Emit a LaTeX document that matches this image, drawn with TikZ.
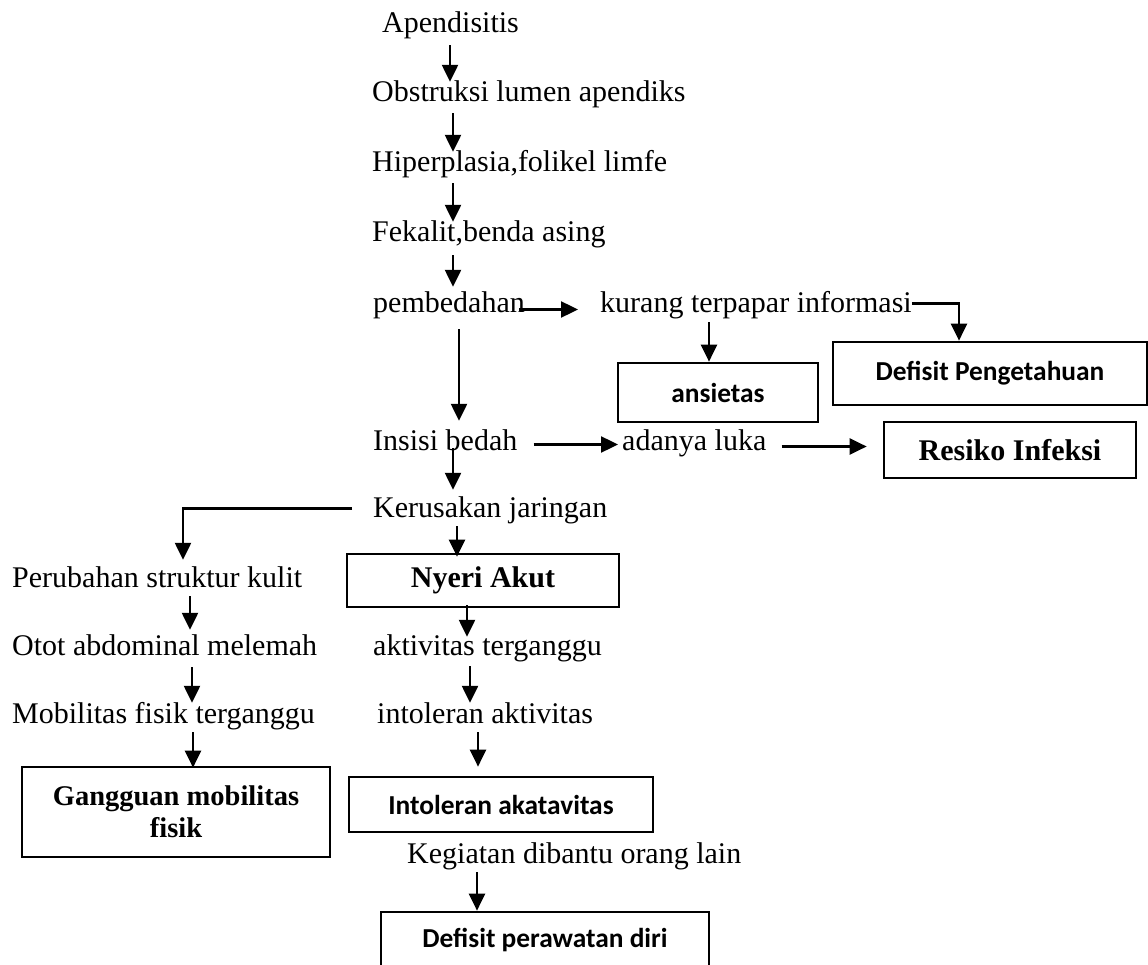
\documentclass[tikz,border=0pt]{standalone}
\usepackage{fontspec}
\setmainfont{Liberation Serif}
\newfontfamily\carlito{Carlito}
\usetikzlibrary{arrows.meta}
\tikzset{
  txt/.style={anchor=base west, inner sep=0pt, text height=20pt, text depth=9pt,
    font=\fontsize{30}{34}\selectfont},
  box/.style={draw, line width=2.7pt, inner sep=0pt, align=center},
  calbox/.style={box, font=\carlito\bfseries\fontsize{27.4}{30}\selectfont},
  timbox/.style={box, font=\bfseries\fontsize{30}{32}\selectfont},
  arr/.style={-{Triangle[width=16pt,length=17pt]}, line width=2.4pt}
}

\begin{document}
\begin{tikzpicture}[x=1pt,y=-1pt]
  \useasboundingbox (0,0) rectangle (1148,965);
  % main line
  \node[txt] (apend) at (382,33) {Apendisitis};
  \node[txt] (obst)  at (372,102) {Obstruksi lumen apendiks};
  \node[txt] (hiper) at (372,172) {Hiperplasia,folikel limfe};
  \node[txt] (fekal) at (372,242) {Fekalit,benda asing};
  \node[txt] (bedah) at (373,313) {pembedahan};
  \node[txt] (kurang) at (600,313) {kurang terpapar informasi};
  \node[txt] (insisi) at (373,450) {Insisi bedah};
  \node[txt] (luka)  at (622,450) {adanya luka};
  \node[txt] (rusak) at (373,517) {Kerusakan jaringan};
  \node[txt] (kulit) at (12,587) {Perubahan struktur kulit};
  \node[txt] (otot)  at (12,655) {Otot abdominal melemah};
  \node[txt] (mobil) at (12,723) {Mobilitas fisik terganggu};
  \node[txt] (aktiv) at (373,655) {aktivitas terganggu};
  \node[txt] (intol) at (377,723) {intoleran aktivitas};
  \node[txt] (bantu) at (407,863) {Kegiatan dibantu orang lain};
  % diagnoses
  \node[calbox, minimum width=200pt, minimum height=59pt] (ansietas) at (718,392.5) {ansietas};
  \node[calbox, minimum width=314pt, minimum height=63pt] (tahu) at (990,373.5) {Defisit Pengetahuan};
  \node[timbox, minimum width=252pt, minimum height=56pt] (infeksi) at (1010,450) {Resiko Infeksi};
  \node[timbox, minimum width=272pt, minimum height=53pt] (nyeri) at (483,580.5) {Nyeri Akut};
  \node[timbox, minimum width=308pt, minimum height=90pt,
    font=\bfseries\fontsize{28.5}{32}\selectfont] (gerak) at (176,812) {Gangguan mobilitas\\fisik};
  \node[calbox, minimum width=304pt, minimum height=55pt] (intolbox) at (501,804.5) {Intoleran akatavitas};
  \node[calbox, minimum width=328pt, minimum height=56pt] (rawat) at (545,940) {Defisit perawatan diri};

  \draw[arr] ([yshift=-3pt]apend.south -| 450,0) -- (obst.north -| 450,0);
  \draw[arr] ([yshift=-2pt]obst.south -| 453,0) -- (hiper.north -| 453,0);
  \draw[arr] ([yshift=-2pt]hiper.south -| 453,0) -- (fekal.north -| 453,0);
  \draw[arr] ([yshift=-4pt]fekal.south -| 453,0) -- ([yshift=6pt]bedah.north -| 453,0);
  \draw[arr] ([yshift=-7pt]bedah.south -| 459,0) -- ([yshift=9pt]insisi.north -| 459,0);
  \draw[arr] ([yshift=2pt]insisi.base -| 453,0) -- ([yshift=7pt]rusak.north -| 453,0);
  \draw[arr] (rusak.south -| 457,0) -- ([yshift=-4pt]nyeri.north -| 457,0);
  \draw[arr] ([xshift=-21pt,yshift=3pt]rusak.west) -| ([yshift=7pt]kulit.north -| 183,0);
  \draw[arr] (kulit.south -| 190,0) -- ([yshift=5pt]otot.north -| 190,0);
  \draw[arr] ([yshift=-3pt]otot.south -| 192,0) -- (mobil.north -| 192,0);
  \draw[arr] (mobil.south -| 193,0) -- ([yshift=-2pt]gerak.north -| 193,0);
  \draw[arr] ([yshift=3pt]nyeri.south -| 467,0) -- ([yshift=-2pt]aktiv.north -| 467,0);
  \draw[arr] ([yshift=-2pt]aktiv.south -| 470,0) -- (intol.north -| 470,0);
  \draw[arr] (intol.south -| 478,0) -- ([yshift=9pt]intolbox.north -| 478,0);
  \draw[arr] (bantu.south -| 477,0) -- (rawat.north -| 477,0);
  \draw[arr] (kurang.south -| 709,0) -- (ansietas.north -| 709,0);
  \draw[arr] ([yshift=4pt]kurang.east) -| (tahu.north -| 959,0);
  \draw[arr] ([xshift=-6pt,yshift=-2pt]bedah.east) -- ([xshift=-22pt,yshift=-2pt]kurang.west);
  \draw[arr] ([xshift=16pt]insisi.east) -- ([xshift=-4pt]luka.west);
  \draw[arr] ([xshift=15pt,yshift=-2pt]luka.east) -- ([xshift=-16pt,yshift=-2pt]luka.east -| infeksi.west);
\end{tikzpicture}
\end{document}
